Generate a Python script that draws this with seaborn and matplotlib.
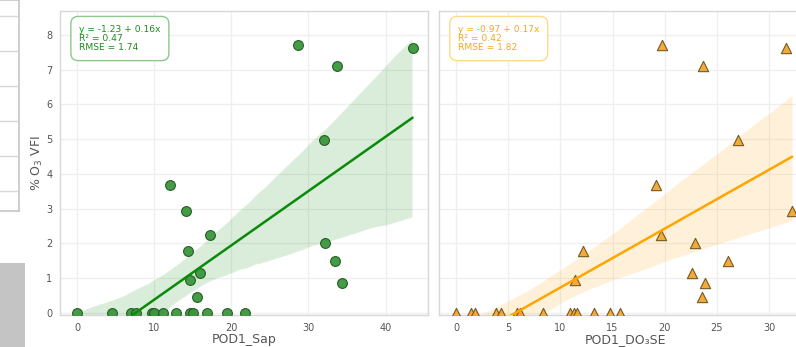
import numpy as np
import pandas as pd
import matplotlib
matplotlib.use("Agg")
import matplotlib.pyplot as plt
from matplotlib.patches import Rectangle
import seaborn as sns

# ---- data ----
pod1_sap = [28.6, 33.7, 43.5, 32.0, 12.0, 14.1, 17.3, 14.4, 32.1, 33.4, 34.3, 15.9, 14.6, 15.6,
            0.0, 4.6, 7.0, 7.6, 9.7, 10.0, 11.2, 12.8, 14.6, 15.1, 16.9, 19.5, 21.8]
vfi_sap = [7.71, 7.11, 7.63, 4.98, 3.68, 2.94, 2.24, 1.78, 2.01, 1.50, 0.86, 1.15, 0.95, 0.46,
           0, 0, 0, 0, 0, 0, 0, 0, 0, 0, 0, 0, 0]

pod1_do3se = [19.75, 23.7, 31.6, 27.0, 19.2, 32.2, 19.6, 12.2, 22.85, 26.1, 23.9, 22.6, 11.4, 23.6,
              0.0, 1.4, 1.8, 3.8, 4.3, 5.8, 6.1, 8.3, 10.9, 11.3, 11.6, 13.2, 14.8, 15.7]
vfi_do3se = [7.71, 7.11, 7.63, 4.98, 3.68, 2.94, 2.24, 1.78, 2.01, 1.50, 0.86, 1.15, 0.95, 0.46,
             0, 0, 0, 0, 0, 0, 0, 0, 0, 0, 0, 0, 0, 0]

stats_sap = ["y = -1.23 + 0.16x", "R² = 0.47", "RMSE = 1.74"]
stats_do3se = ["y = -0.97 + 0.17x", "R² = 0.42", "RMSE = 1.82"]

xticks_sap = [0, 10, 20, 30, 40]
xticks_do3se = [0, 5, 10, 15, 20, 25, 30]
yticks = [0, 1, 2, 3, 4, 5, 6, 7, 8]

df_sap = pd.DataFrame({"POD1_Sap": pod1_sap, "VFI": vfi_sap})
df_do3se = pd.DataFrame({"POD1_DO3SE": pod1_do3se, "VFI": vfi_do3se})

sns.set_theme(style="whitegrid")
plt.rcParams["font.family"] = ["DejaVu Sans"]
plt.rcParams["grid.color"] = "#ececec"
plt.rcParams["axes.edgecolor"] = "#d4d4d4"

W, H = 796, 347
fig = plt.figure(figsize=(W / 100, H / 100), dpi=100)

# partial neighbouring panel at the far left (cropped in the reference)
ax0 = fig.add_axes([-0.1, 1 - 211 / H, 0.1 + 19 / W, 211 / H])
ax0.set_xlim(0, 1)
ax0.set_ylim(0, 1)
ax0.set_yticks([0.095, 0.261, 0.427, 0.593, 0.759, 0.925])
ax0.set_xticks([])
ax0.tick_params(labelleft=False, length=0)
ax0.grid(True, axis="y", color="#d8d8d8")
for s in ax0.spines.values():
    s.set_color("#c8c8c8")
fig.add_artist(Rectangle((0, 0), 25 / W, (H - 263) / H, transform=fig.transFigure,
                         facecolor="#c4c4c4", edgecolor="none"))

ax1 = fig.add_axes([60 / W, 1 - 315 / H, 368 / W, 304 / H])
ax2 = fig.add_axes([439 / W, 1 - 315 / H, 374 / W, 304 / H])

sns.regplot(data=df_sap, x="POD1_Sap", y="VFI", ax=ax1, marker="o", color="green",
            seed=0, n_boot=1000,
            scatter_kws=dict(s=50, facecolor="#3c963c", edgecolor="#1f5a1f",
                             linewidths=0.8, alpha=0.95, zorder=3),
            line_kws=dict(color="#0a8a0a", linewidth=1.8, zorder=4))
sns.regplot(data=df_do3se, x="POD1_DO3SE", y="VFI", ax=ax2, marker="^", color="orange",
            seed=0, n_boot=1000,
            scatter_kws=dict(s=55, facecolor="#f2a630", edgecolor="#6e5420",
                             linewidths=0.8, alpha=0.95, zorder=3),
            line_kws=dict(color="#ffa500", linewidth=1.8, zorder=4))

ax1.set_xlim(-2.2, 45.5)
ax2.set_xlim(-1.63, 34.2)
for ax, xt in ((ax1, xticks_sap), (ax2, xticks_do3se)):
    ax.set_ylim(-0.06, 8.69)
    ax.set_xticks(xt)
    ax.set_yticks(yticks)
    ax.tick_params(axis="both", labelsize=7, labelcolor="#555555", length=0, pad=5.5)
    ax.grid(True, color="#efefef", linewidth=0.9)
    for s in ax.spines.values():
        s.set_color("#d8d8d8")
        s.set_linewidth(1.0)

ax1.set_xlabel("POD1_Sap", fontsize=9, color="#555555", labelpad=0.3)
ax2.set_xlabel("POD1_DO₃SE", fontsize=9, color="#555555", labelpad=0.3)
ax1.set_ylabel("% O$_3$ VFI", fontsize=9, color="#555555", labelpad=0.5)
ax2.set_ylabel("")
ax2.tick_params(labelleft=False)

ax1.text(0.052, 0.955, "\n".join(stats_sap), transform=ax1.transAxes, va="top", ha="left",
         fontsize=6.6, color="#1f8a1f", linespacing=1.05, zorder=6,
         bbox=dict(boxstyle="round,pad=0.9,rounding_size=0.8", facecolor="white",
                   edgecolor="#8cc88c", linewidth=1.0))
ax2.text(0.051, 0.955, "\n".join(stats_do3se), transform=ax2.transAxes, va="top", ha="left",
         fontsize=6.6, color="#f5a623", linespacing=1.05, zorder=6,
         bbox=dict(boxstyle="round,pad=0.9,rounding_size=0.8", facecolor="white",
                   edgecolor="#ffd98a", linewidth=1.0))

fig.savefig("out.png", dpi=100)
